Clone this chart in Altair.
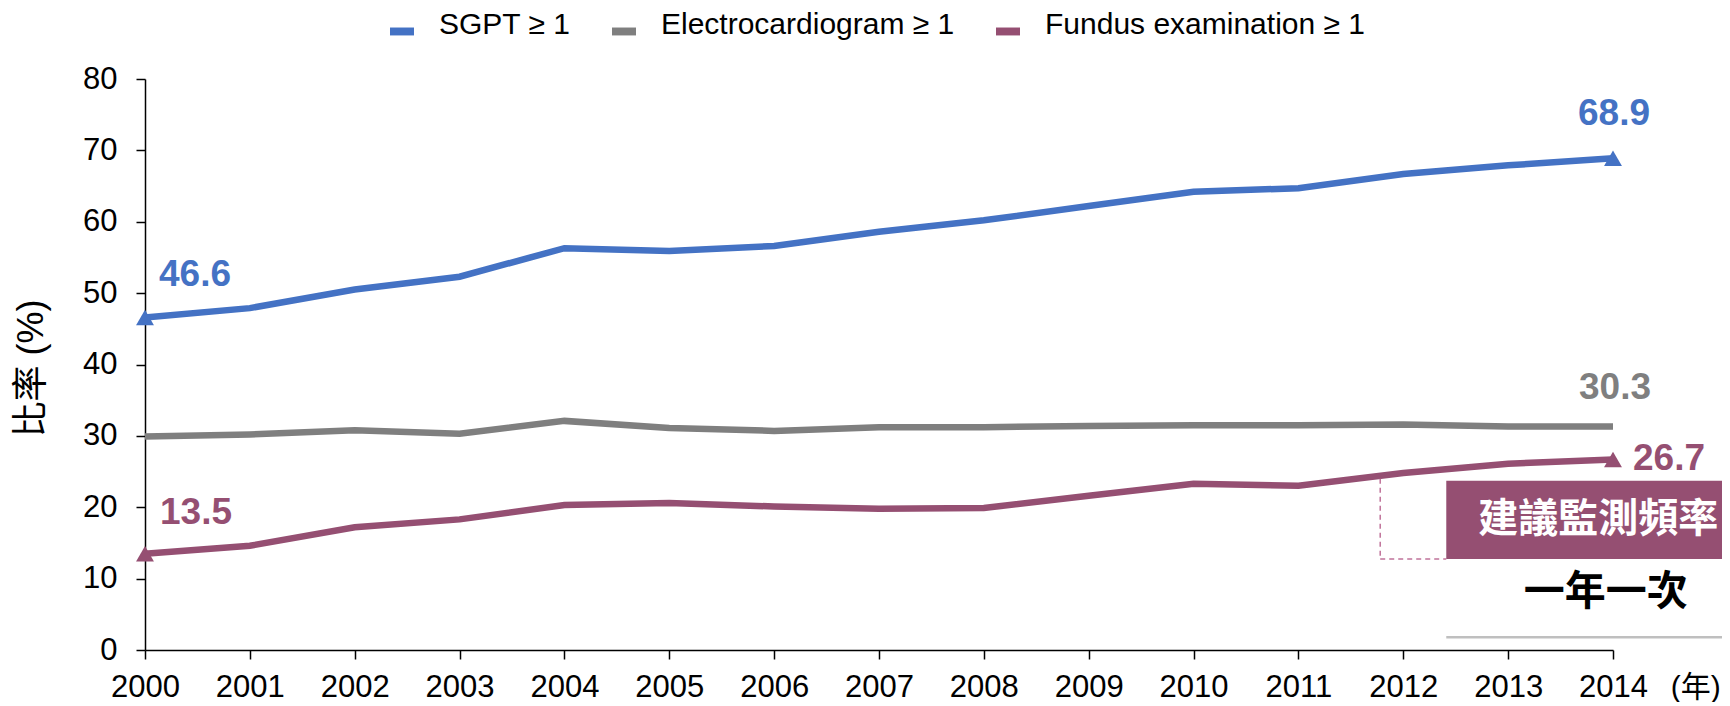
import altair as alt
import pandas as pd

# ---------------- data ----------------
years = list(range(2000, 2015))
sgpt = [46.6, 47.9, 50.5, 52.3, 56.3, 55.9, 56.6, 58.6, 60.2, 62.2, 64.2, 64.7, 66.7, 67.9, 68.9]
ecg = [29.9, 30.2, 30.8, 30.3, 32.1, 31.1, 30.7, 31.2, 31.2, 31.4, 31.5, 31.5, 31.6, 31.3, 31.3]
fundus = [13.5, 14.6, 17.2, 18.3, 20.3, 20.6, 20.1, 19.8, 19.9, 21.6, 23.3, 23.0, 24.8, 26.1, 26.7]

series_names = ["SGPT ≥ 1", "Electrocardiogram ≥ 1", "Fundus examination ≥ 1"]
series_colors = ["#4472C4", "#7F7F7F", "#954F72"]
series_values = [sgpt, ecg, fundus]
marked_series = ["SGPT ≥ 1", "Fundus examination ≥ 1"]

# value labels: (key, series, year, text)
label_keys = ["s_start", "s_end", "e_end", "f_start", "f_end"]
label_series = ["SGPT ≥ 1", "SGPT ≥ 1", "Electrocardiogram ≥ 1", "Fundus examination ≥ 1", "Fundus examination ≥ 1"]
label_years = [2000, 2014, 2014, 2000, 2014]
label_texts = ["46.6", "68.9", "30.3", "13.5", "26.7"]

# annotation (call-out box)
box_x = [2012.41]
box_x2 = [2015.3]
box_y = [23.7]
box_y2 = [12.75]
note_texts = ["建議監測頻率", "一年一次"]
note_x = [2013.86, 2013.93]
note_y = [18.2, 8.0]
dash_x = [2011.78, 2011.78]
dash_x2 = [2011.78, 2012.41]
dash_y = [24.0, 12.75]
dash_y2 = [12.75, 12.75]
sep_x = [2012.41]
sep_x2 = [2015.3]
sep_y = [1.8]
unit_text = ["(年)"]
unit_x = [2014.79]
unit_y = [-5.3]

# ---------------- tables ----------------
rows = []
for name, vals in zip(series_names, series_values):
    for yr, v in zip(years, vals):
        rows.append({"year": yr, "value": v, "series": name})
df = pd.DataFrame(rows)

mk = df[df["series"].isin(marked_series) & df["year"].isin([years[0], years[-1]])]

lab_rows = []
for k, s, yr, t in zip(label_keys, label_series, label_years, label_texts):
    v = series_values[series_names.index(s)][years.index(yr)]
    lab_rows.append({"key": k, "series": s, "year": yr, "value": v, "text": t})
lab = pd.DataFrame(lab_rows)

box_df = pd.DataFrame({"x": box_x, "x2": box_x2, "y": box_y, "y2": box_y2})
note_df = pd.DataFrame({"x": note_x, "y": note_y, "text": note_texts})
dash_df = pd.DataFrame({"x": dash_x, "x2": dash_x2, "y": dash_y, "y2": dash_y2})
sep_df = pd.DataFrame({"x": sep_x, "x2": sep_x2, "y": sep_y})
unit_df = pd.DataFrame({"x": unit_x, "y": unit_y, "text": unit_text})

FONT = "Liberation Sans, Arial, Noto Sans CJK TC, sans-serif"
CJK = "Noto Sans CJK TC, sans-serif"

xscale = alt.Scale(domain=[2000, 2014], nice=False, zero=False)
yscale = alt.Scale(domain=[0, 80], nice=False)
cscale = alt.Scale(domain=series_names, range=series_colors)

X = alt.X("year:Q", scale=xscale,
          axis=alt.Axis(values=years, format="d", title=None, grid=False,
                        labelFontSize=31, labelFont=FONT, labelColor="#000",
                        tickSize=9, labelPadding=13, domainColor="#000",
                        tickColor="#000", domainWidth=1.5, tickWidth=1.5,
                        labelFlush=False))
Y = alt.Y("value:Q", scale=yscale,
          axis=alt.Axis(values=list(range(0, 81, 10)), title="比率 (%)", grid=False,
                        labelFontSize=31, labelFont=FONT, labelColor="#000",
                        tickSize=9, labelPadding=19, domainColor="#000",
                        tickColor="#000", domainWidth=1.5, tickWidth=1.5,
                        titleFontSize=36, titleFont=FONT, titleFontWeight="normal",
                        titleColor="#000", titleX=-114, titleY=289,
                        titleBaseline="middle", titleAlign="center"))

base = alt.Chart(df)

lines = base.mark_line(strokeWidth=6.5, strokeCap="butt").encode(
    x=X, y=Y,
    color=alt.Color("series:N", scale=cscale, legend=None),
    detail="series:N",
)

points = alt.Chart(mk).mark_point(filled=True, shape="triangle-up", size=320, opacity=1).encode(
    x="year:Q", y="value:Q",
    color=alt.Color("series:N", scale=cscale,
                    legend=alt.Legend(title=None, orient="none", direction="horizontal",
                                      legendX=242, legendY=-69,
                                      symbolType="M-1,0.21L1,0.21L1,0.87L-1,0.87Z",
                                      symbolSize=576, symbolStrokeWidth=0,
                                      symbolOpacity=1,
                                      labelFontSize=30, labelFont=FONT, labelColor="#000",
                                      labelOffset=22, columnPadding=38, padding=0,
                                      labelLimit=600)),
)

def label_layer(key, align, dx, dy):
    return alt.Chart(lab).transform_filter(alt.datum.key == key).mark_text(
        font=FONT, fontSize=37, fontWeight="bold", align=align, baseline="middle",
        dx=dx, dy=dy,
    ).encode(
        x="year:Q", y="value:Q", text="text:N",
        color=alt.Color("series:N", scale=cscale, legend=None),
    )

labels = [
    label_layer("s_start", "left", 14, -42),
    label_layer("f_start", "left", 15, -41),
    label_layer("s_end", "center", 1, -44),
    label_layer("e_end", "center", 2, -39),
    label_layer("f_end", "left", 20, 0),
]

box = alt.Chart(box_df).mark_rect(color="#954F72").encode(
    x="x:Q", x2="x2:Q", y="y:Q", y2="y2:Q")

dash = alt.Chart(dash_df).mark_rule(color="#C0739A", strokeWidth=1.5, strokeDash=[5, 4]).encode(
    x="x:Q", x2="x2:Q", y="y:Q", y2="y2:Q")

sep = alt.Chart(sep_df).mark_rule(color="#BFBFBF", strokeWidth=2.5).encode(
    x="x:Q", x2="x2:Q", y="y:Q")

note1 = alt.Chart(note_df.iloc[[0]]).mark_text(
    font=CJK, fontSize=40, fontWeight="bold", color="white", align="center", baseline="middle"
).encode(x="x:Q", y="y:Q", text="text:N")

note2 = alt.Chart(note_df.iloc[[1]]).mark_text(
    font=CJK, fontSize=41, fontWeight="bold", color="#000", align="center", baseline="middle"
).encode(x="x:Q", y="y:Q", text="text:N")

unit = alt.Chart(unit_df).mark_text(
    font=FONT, fontSize=30, color="#000", align="center", baseline="middle"
).encode(x="x:Q", y="y:Q", text="text:N")

chart = alt.layer(lines, points, *labels, dash, box, note1, note2, sep, unit).resolve_legend(
    color="independent"
).properties(
    width=1468, height=571,
    background="white",
    autosize=alt.AutoSizeParams(type="none"),
    padding={"left": 137, "top": 71, "right": 109, "bottom": 52},
).configure_view(stroke=None, strokeWidth=0).configure_axis(grid=False)

chart.save("out.html", embed_options={"renderer": "svg", "actions": False})
